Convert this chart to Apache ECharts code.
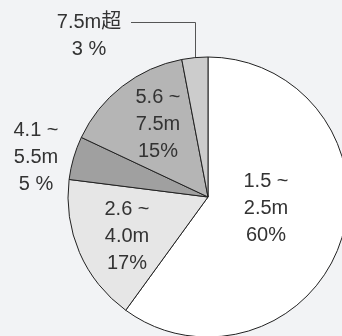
<!DOCTYPE html>
<html>
<head>
<meta charset="utf-8">
<script src="https://cdn.jsdelivr.net/npm/echarts@6/dist/echarts.min.js"></script>
<style>
html,body{margin:0;padding:0;background:#f2f3f5;}
#c{width:342px;height:336px;}
</style>
</head>
<body>
<div id="c"></div>
<script>
var categories = ['1.5 ~\n2.5m', '2.6 ~\n4.0m', '4.1 ~\n5.5m', '5.6 ~\n7.5m', '7.5m超'];
var values = [60, 17, 5, 15, 3];
var percentLabels = ['60%', '17%', '5 %', '15%', '3 %'];

var sliceColors = ['#ffffff', '#e6e6e6', '#a0a0a0', '#b5b5b5', '#cccccc'];
var labelCenters = [[266, 208], [127, 236], [36, 157], [158, 124], [89, 36]];

var chart = echarts.init(document.getElementById('c'), null, {renderer: 'canvas'});
chart.setOption({
  backgroundColor: '#f2f3f5',
  animation: false,
  graphic: [{
    type: 'polyline',
    z: 0,
    shape: {points: [[131, 22.5], [195.5, 22.5], [195.5, 57]]},
    style: {stroke: '#555555', lineWidth: 1, fill: null}
  }],
  series: [{
    type: 'pie',
    center: [208, 197],
    radius: [0, 140],
    startAngle: 90,
    clockwise: true,
    z: 2,
    itemStyle: {borderColor: '#222222', borderWidth: 1},
    emphasis: {disabled: true},
    labelLine: {show: false},
    label: {
      show: true,
      position: 'inside',
      fontFamily: 'Liberation Sans, Arial, Noto Sans CJK JP, sans-serif',
      fontSize: 20,
      lineHeight: 27,
      color: '#333333',
      align: 'center',
      formatter: function (p) { return categories[p.dataIndex] + '\n' + percentLabels[p.dataIndex]; }
    },
    labelLayout: function (p) {
      var c = labelCenters[p.dataIndex];
      return {x: c[0], y: c[1], align: 'center', verticalAlign: 'middle'};
    },
    data: values.map(function (v, i) {
      return {value: v, name: categories[i], itemStyle: {color: sliceColors[i]}};
    })
  }]
});
</script>
</body>
</html>
